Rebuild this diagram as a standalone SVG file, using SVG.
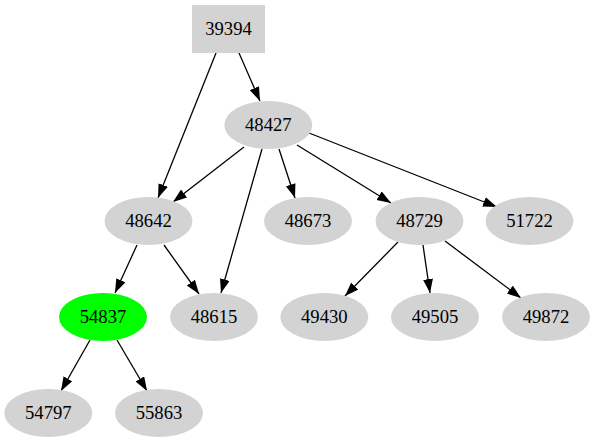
<svg xmlns="http://www.w3.org/2000/svg" width="595" height="443" viewBox="0 0 595 443">
<style>
.n{fill:#d3d3d3;stroke:none}
.g{fill:#00ff00;stroke:none}
.t{font-family:'Liberation Serif','Times New Roman',Times,serif;font-size:18.67px;text-anchor:middle;fill:#000}
.e{stroke:#000;stroke-width:1.3;fill:none;marker-end:url(#a)}
</style>
<defs>
<marker id="a" markerUnits="userSpaceOnUse" markerWidth="16" markerHeight="12" refX="14" refY="5" orient="auto">
<path d="M0,0 L14,5 L0,10 z" fill="#000"/>
</marker>
</defs>
<rect width="595" height="443" fill="#fff"/>
<g id="edges">
<line class="e" x1="216" y1="53" x2="158" y2="198"/>
<line class="e" x1="239" y1="53" x2="260" y2="101"/>
<line class="e" x1="244" y1="147" x2="173" y2="202"/>
<line class="e" x1="262" y1="149" x2="221" y2="293"/>
<line class="e" x1="279" y1="149" x2="295" y2="198"/>
<line class="e" x1="297" y1="145" x2="391" y2="203"/>
<line class="e" x1="309" y1="133" x2="497" y2="207"/>
<line class="e" x1="137" y1="245" x2="115" y2="293"/>
<line class="e" x1="164" y1="245" x2="199" y2="294"/>
<line class="e" x1="90" y1="340" x2="61" y2="391"/>
<line class="e" x1="117" y1="340" x2="147" y2="391"/>
<line class="e" x1="398" y1="242" x2="345" y2="296"/>
<line class="e" x1="423" y1="245" x2="430" y2="293"/>
<line class="e" x1="445" y1="241" x2="521" y2="298"/>
</g>
<g id="n39394"><rect class="n" x="192" y="5" width="73" height="48"/><text class="t" x="228.5" y="35">39394</text></g>
<g id="n48427"><ellipse class="n" cx="268.3" cy="125" rx="44" ry="24"/><text class="t" x="268.3" y="131">48427</text></g>
<g id="n48642"><ellipse class="n" cx="148.5" cy="221" rx="44" ry="24"/><text class="t" x="148.5" y="227">48642</text></g>
<g id="n48673"><ellipse class="n" cx="308" cy="221" rx="44" ry="24"/><text class="t" x="308" y="227">48673</text></g>
<g id="n48729"><ellipse class="n" cx="419.5" cy="221" rx="44" ry="24"/><text class="t" x="419.5" y="227">48729</text></g>
<g id="n51722"><ellipse class="n" cx="529.5" cy="221" rx="44" ry="24"/><text class="t" x="529.5" y="227">51722</text></g>
<g id="n54837"><ellipse class="g" cx="103" cy="317" rx="44" ry="24"/><text class="t" x="103" y="323">54837</text></g>
<g id="n48615"><ellipse class="n" cx="214" cy="317" rx="44" ry="24"/><text class="t" x="214" y="323">48615</text></g>
<g id="n49430"><ellipse class="n" cx="324.3" cy="317" rx="44" ry="24"/><text class="t" x="324.3" y="323">49430</text></g>
<g id="n49505"><ellipse class="n" cx="435" cy="317" rx="44" ry="24"/><text class="t" x="435" y="323">49505</text></g>
<g id="n49872"><ellipse class="n" cx="546" cy="317" rx="44" ry="24"/><text class="t" x="546" y="323">49872</text></g>
<g id="n54797"><ellipse class="n" cx="48.3" cy="413" rx="44" ry="24"/><text class="t" x="48.3" y="419">54797</text></g>
<g id="n55863"><ellipse class="n" cx="159" cy="413" rx="44" ry="24"/><text class="t" x="159" y="419">55863</text></g>
</svg>
